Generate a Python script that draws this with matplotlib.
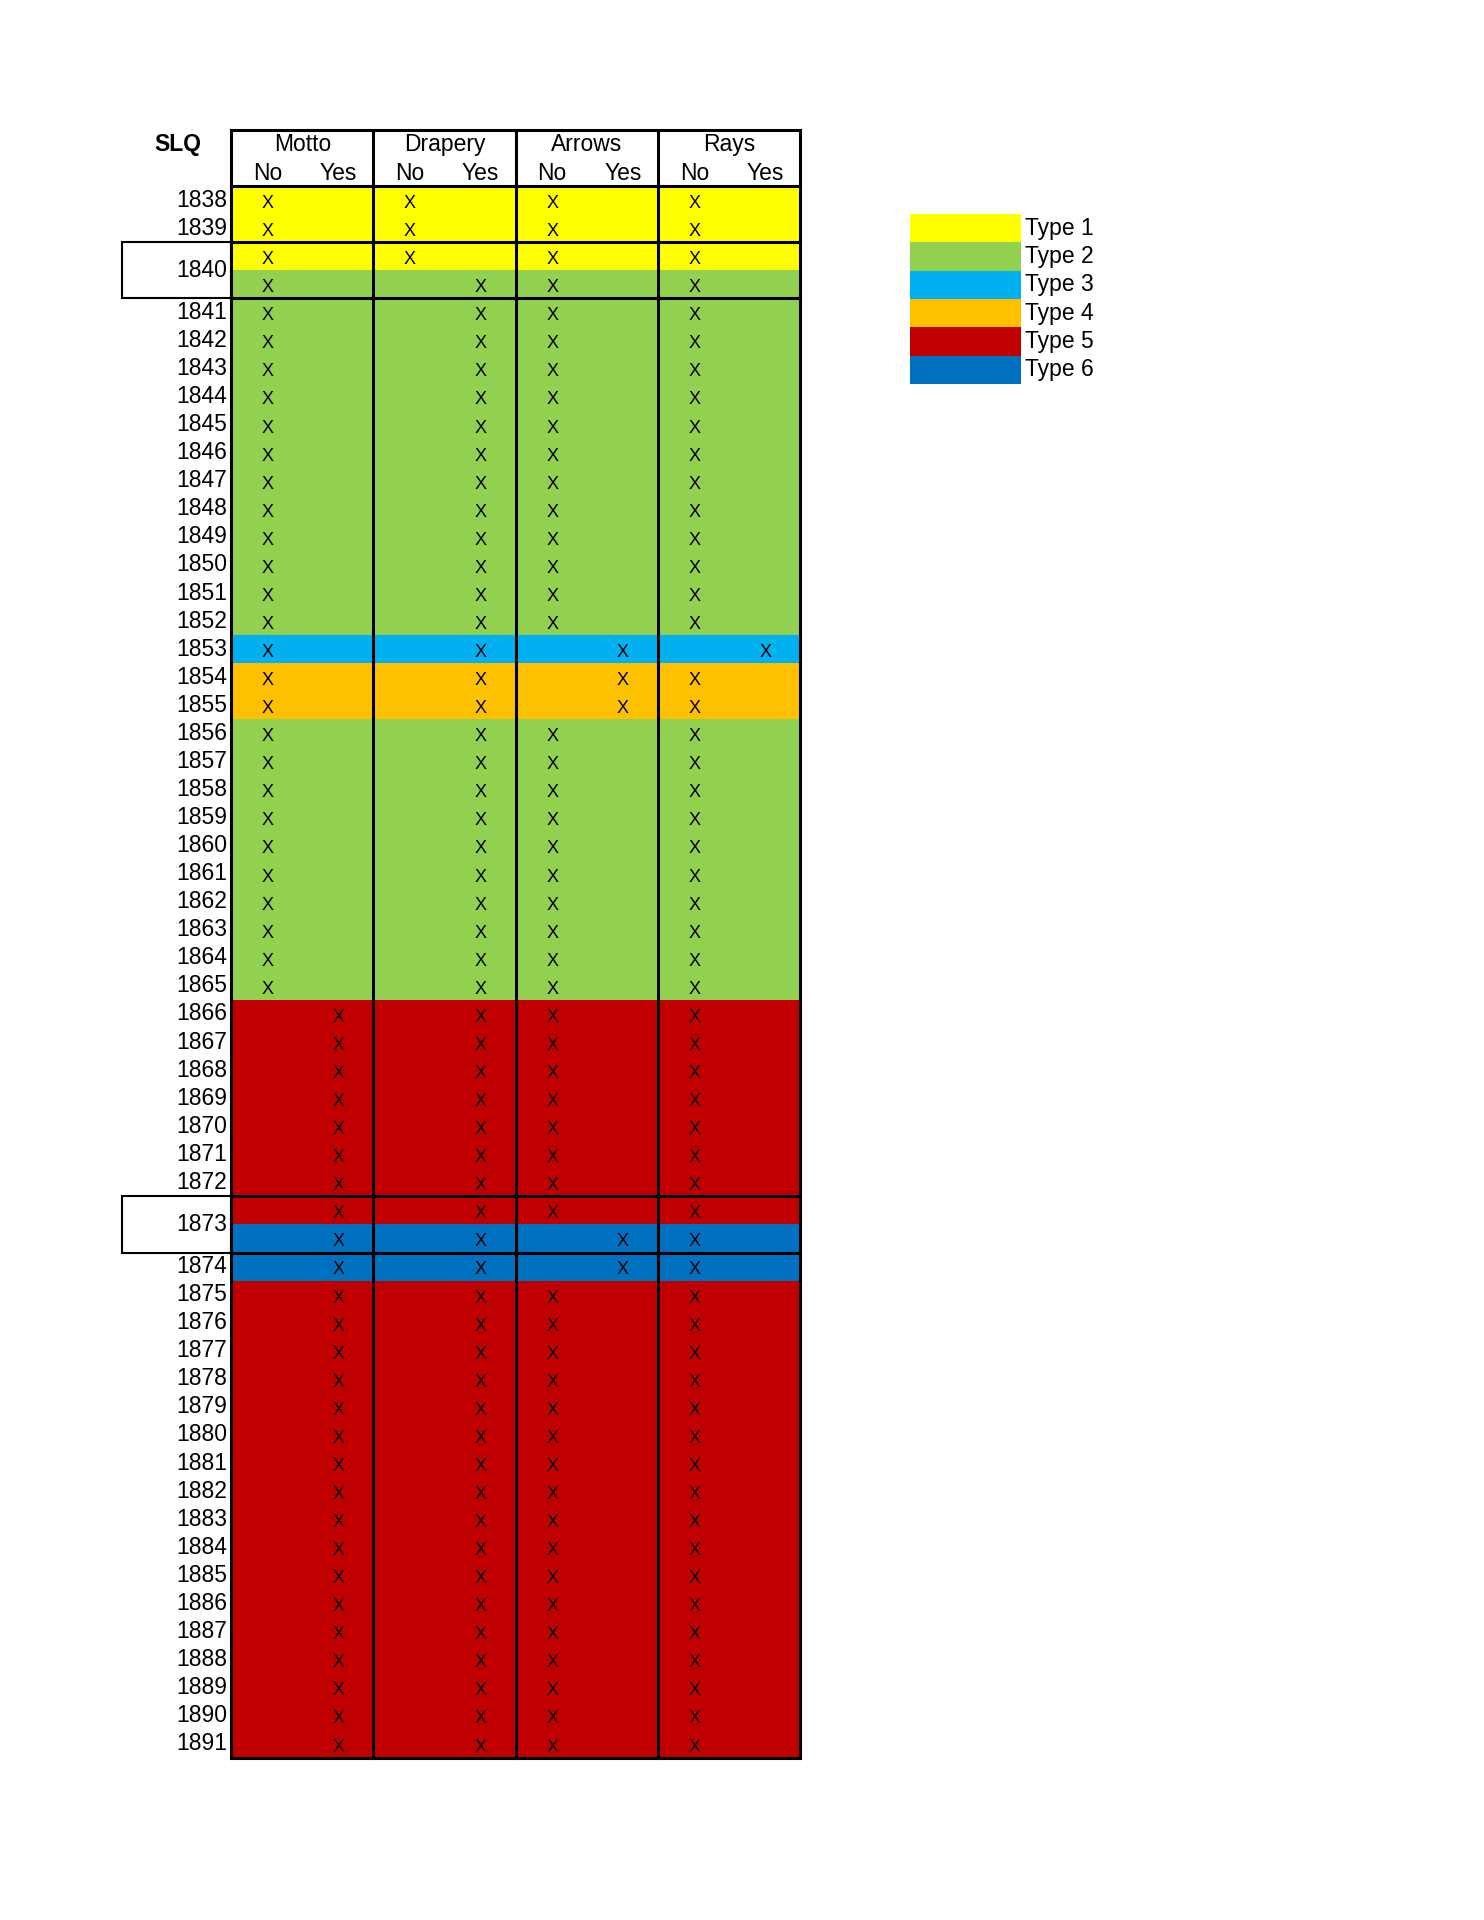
import matplotlib
matplotlib.use("Agg")
import matplotlib.pyplot as plt
from matplotlib.patches import Rectangle

plt.rcParams['font.family'] = ['Liberation Sans', 'DejaVu Sans']

groups = ["Motto", "Drapery", "Arrows", "Rays"]
sub_labels = ["No", "Yes"]
type_names = ["Type 1", "Type 2", "Type 3", "Type 4", "Type 5", "Type 6"]
type_colors = ["#FFFF00", "#92D050", "#00B0F0", "#FFC000", "#C00000", "#0070C0"]

row_labels = (["1838", "1839", "1840", ""] + [str(y) for y in range(1841, 1873)]
              + ["1873", ""] + [str(y) for y in range(1874, 1892)])
row_types = ([1, 1, 1, 2] + [2] * 12 + [3] + [4] * 2 + [2] * 10 + [5] * 7
             + [5, 6] + [6] + [5] * 17)
motto = ["N"] * 4 + ["N"] * 12 + ["N"] + ["N"] * 2 + ["N"] * 10 + ["Y"] * 7 + ["Y", "Y"] + ["Y"] + ["Y"] * 17
drapery = ["N", "N", "N", "Y"] + ["Y"] * 12 + ["Y"] + ["Y"] * 2 + ["Y"] * 10 + ["Y"] * 7 + ["Y", "Y"] + ["Y"] + ["Y"] * 17
arrows = ["N"] * 4 + ["N"] * 12 + ["Y"] + ["Y"] * 2 + ["N"] * 10 + ["N"] * 7 + ["N", "Y"] + ["Y"] + ["N"] * 17
rays = ["N"] * 4 + ["N"] * 12 + ["Y"] + ["N"] * 2 + ["N"] * 10 + ["N"] * 7 + ["N", "N"] + ["N"] + ["N"] * 17
merged = {"1840": 2, "1873": 2}

S = 1484 / 1220
W, H = 1220, 1920 / S
fig = plt.figure(figsize=(14.84, 19.2), dpi=100)
ax = fig.add_axes([0, 0, 1, 1])
ax.set_xlim(0, W)
ax.set_ylim(H, 0)
ax.axis("off")

x0, cw = 190, 117
top, hb = 107, 153
rh = (1445 - 153) / 56
n = len(row_labels)
lw = 2.2
fs = 16.5
xfs = 13

for i, t in enumerate(row_types):
    ax.add_patch(Rectangle((x0, hb + i * rh), 4 * cw, rh, color=type_colors[t - 1], lw=0))

cols = [motto, drapery, arrows, rays]
for g, vals in enumerate(cols):
    for i, v in enumerate(vals):
        xx = x0 + g * cw + (30 if v == "N" else 88)
        ax.text(xx, hb + (i + 0.62) * rh, "X", ha="center", va="center", fontsize=xfs)

# labels
i = 0
while i < n:
    lab = row_labels[i]
    span = merged.get(lab, 1)
    yc = hb + (i + span / 2) * rh
    ax.text(187, yc, lab, ha="right", va="center", fontsize=fs)
    if span == 2:
        ax.add_patch(Rectangle((100, hb + i * rh), x0 - 100, 2 * rh, fill=False, ec="black", lw=1.5))
        for k in (0, 2):
            ax.plot([x0, x0 + 4 * cw], [hb + (i + k) * rh] * 2, color="black", lw=lw)
    i += span

# header
ax.text(146, 119, "SLQ", ha="center", va="center", fontsize=fs, fontweight="bold")
for g, name in enumerate(groups):
    ax.text(x0 + g * cw + cw / 2, 119, name, ha="center", va="center", fontsize=fs)
    ax.text(x0 + g * cw + 30, 143, sub_labels[0], ha="center", va="center", fontsize=fs)
    ax.text(x0 + g * cw + 88, 143, sub_labels[1], ha="center", va="center", fontsize=fs)

for g in range(5):
    ax.plot([x0 + g * cw] * 2, [top, 1445], color="black", lw=lw)
for yy in (top, hb, 1445):
    ax.plot([x0, x0 + 4 * cw], [yy, yy], color="black", lw=lw)

# legend
lh = 23.3
for k, (nm, c) in enumerate(zip(type_names, type_colors)):
    ax.add_patch(Rectangle((748, 176 + k * lh), 91, lh, color=c, lw=0))
    ax.text(843, 176 + (k + 0.5) * lh, nm, ha="left", va="center", fontsize=fs)

fig.savefig("out.png", dpi=100)
